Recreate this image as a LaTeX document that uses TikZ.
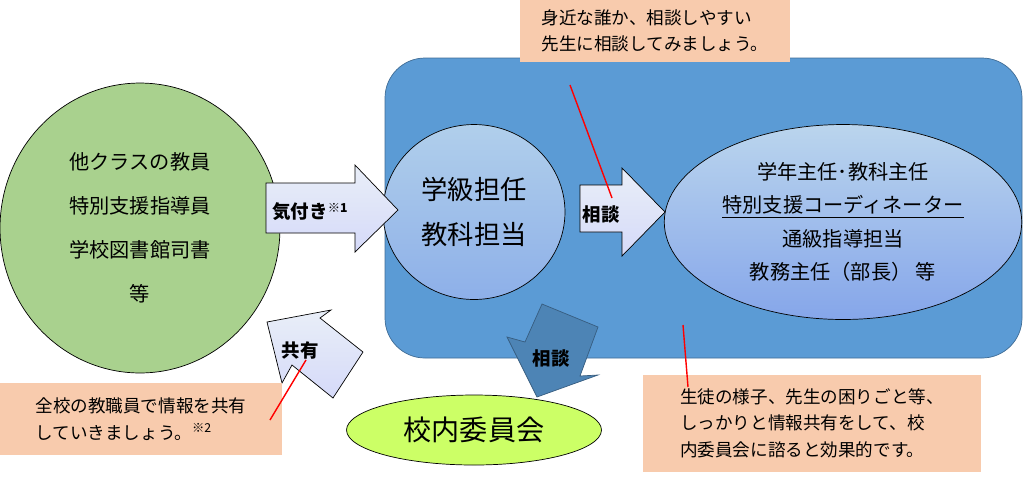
\documentclass[tikz,border=0pt]{standalone}
\usepackage{fontspec}
\newfontfamily\cjk{Noto Sans CJK JP}
\usetikzlibrary{shapes.geometric}
\definecolor{panelblue}{HTML}{5B9BD5}
\definecolor{paleblue}{HTML}{DAE3F3}
\definecolor{ringblue}{HTML}{9DC3E6}
\definecolor{leafgreen}{HTML}{A9D18E}
\definecolor{limegreen}{HTML}{CCFF66}
\definecolor{peach}{HTML}{F8CBAD}
\newcommand{\notemark}[1]{{\fontsize{7}{8}\selectfont\raisebox{1ex}{#1}}}
\tikzset{
  notebox/.style={fill=peach, inner sep=4pt, align=left, font=\cjk\fontsize{10}{15}\selectfont},
  bigarrow/.style={draw=black, thin, top color=white!40!paleblue, bottom color=paleblue!85!blue!60},
  pointer/.style={red, thick}
}
\begin{document}
\begin{tikzpicture}[x=0.02cm, y=-0.02cm, font=\cjk]
  \useasboundingbox (0,0) rectangle (1024,485);

  % 青い枠
  \draw[panelblue!70!black, fill=panelblue, rounded corners=0.8cm] (385,58) rectangle (1022,358);

  % 円・楕円
  \node[draw, ellipse, fill=leafgreen, minimum width=5.6cm, minimum height=5.8cm,
        align=center, font=\cjk\fontsize{11.5}{25}\selectfont] (others) at (140,228)
        {他クラスの教員\\特別支援指導員\\学校図書館司書\\等};
  \node[draw, ellipse, top color=ringblue!80!white, bottom color=ringblue!90!blue, minimum width=3.64cm,
        minimum height=3.5cm, align=center, font=\cjk\fontsize{15}{26}\selectfont] (tannin) at (474,212)
        {学級担任\\教科担当};
  \node[draw, ellipse, top color=ringblue!70!white, bottom color=ringblue!85!blue, minimum width=7.1cm,
        minimum height=3.9cm, align=center, font=\cjk\fontsize{11.5}{19}\selectfont] (leaders) at (843,222)
        {学年主任･教科主任\\\underline{特別支援コーディネーター}\\通級指導担当\\教務主任（部長） 等};
  \node[draw, ellipse, fill=limegreen, minimum width=5.1cm, minimum height=1.4cm,
        font=\cjk\fontsize{16}{20}\selectfont] (iinkai) at (474,430) {校内委員会};

  % 矢印
  \draw[bigarrow] (266,183) -- (355,183) -- (355,165) -- (398,210) -- (355,252) -- (355,233) -- (266,233) -- cycle;
  \node[font=\cjk\fontsize{10.5}{12}\selectfont\bfseries] (kizuki) at (310,212) {気付き\notemark{※1}};
  \draw[bigarrow] (580,185) -- (622,185) -- (622,168) -- (665,212) -- (622,256) -- (622,232) -- (580,232) -- cycle;
  \node[font=\cjk\fontsize{10.5}{12}\selectfont\bfseries] (soudan1) at (601,214) {相談};
  \draw[panelblue!60!black, fill=panelblue!85!black] (542,304) -- (598,327) -- (580,376) -- (598,375) -- (537,397) -- (507,337) -- (525,342) -- cycle;
  \node[font=\cjk\fontsize{10.5}{12}\selectfont\bfseries] (soudan2) at (551,358) {相談};
  \draw[bigarrow] (267,322) -- (331,310) -- (320,318) -- (363,352) -- (333,398) -- (292,365) -- (282,383) -- cycle;
  \node[font=\cjk\fontsize{10.5}{12}\selectfont\bfseries] (kyouyu) at (300,350) {共有};

  % 吹き出し
  \node[notebox, minimum width=5.4cm, minimum height=1.24cm] (topnote) at (655,31)
        {身近な誰か、相談しやすい\\先生に相談してみましょう。};
  \node[notebox, minimum width=5.66cm, minimum height=1.44cm] (leftnote) at (141,419)
        {全校の教職員で情報を共有\\していきましょう。\notemark{※2}};
  \node[notebox, minimum width=6.78cm, minimum height=1.94cm] (rightnote) at (812,423)
        {生徒の様子、先生の困りごと等、\\しっかりと情報共有をして、校\\内委員会に諮ると効果的です。};

  % 引き出し線
  \coordinate (topend) at (612,198);
  \coordinate (leftend) at (306,360);
  \coordinate (rightend) at (683,325);
  \draw[pointer] (570,85) -- (topend);
  \draw[pointer] (270,420) -- (leftend);
  \draw[pointer] (688,387) -- (rightend);
\end{tikzpicture}
\end{document}
